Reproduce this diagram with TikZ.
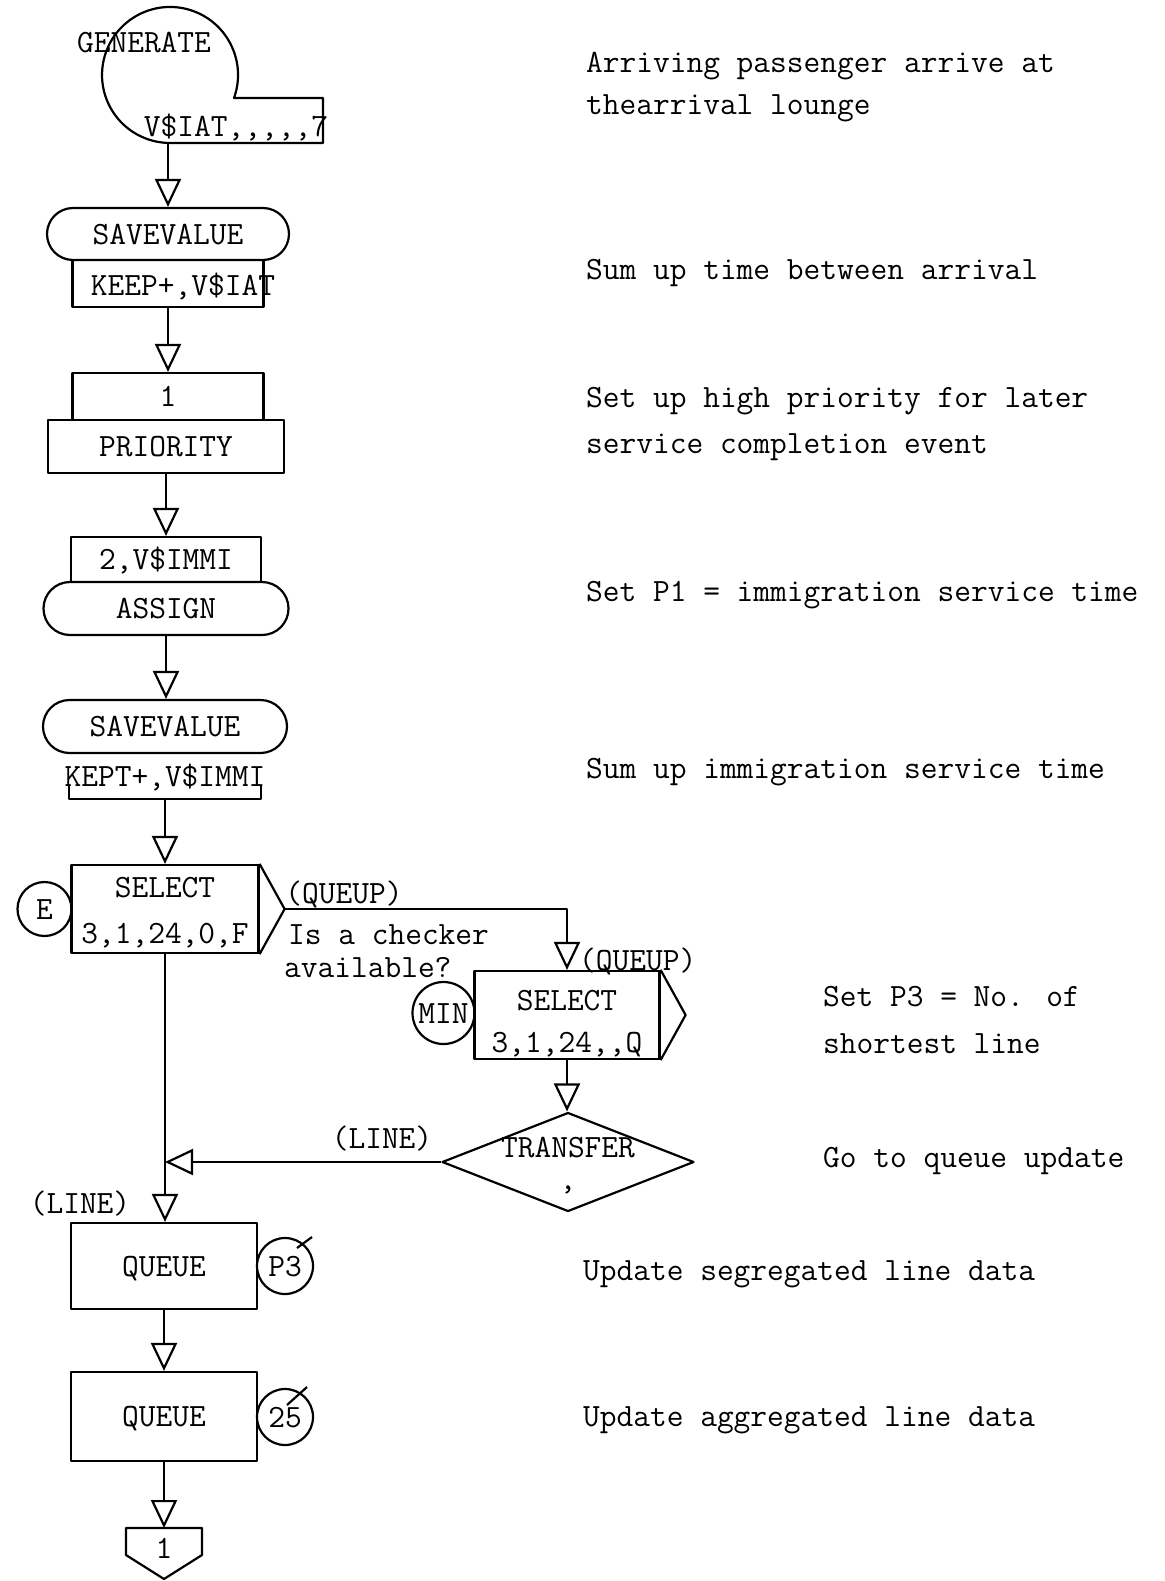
\documentclass[tikz,border=0pt]{standalone}
\usetikzlibrary{arrows.meta,shapes.misc,shapes.geometric}
\begin{document}
\begin{tikzpicture}[x=1pt,y=-1pt,line width=2.2pt,line join=round,
  tw/.style={font=\fontsize{32.5}{38}\selectfont\ttfamily, inner sep=0pt},
  lbl/.style={tw, anchor=base},
  note/.style={tw, anchor=base west},
  box/.style={draw, rectangle, inner sep=0pt, tw, text height=20pt, text depth=0pt},
  pill/.style={draw, rounded rectangle, inner sep=0pt, tw, text height=20pt, text depth=0pt},
  tag/.style={draw, circle, inner sep=0pt, tw, text height=20pt, text depth=0pt},
  flow/.style={-{Triangle[open,width=26pt,length=28pt]}},
]
\useasboundingbox (0,0) rectangle (1164,1581);

% GENERATE block: circle merged with its operand field
\draw (234,98) arc[start angle=19.8, end angle=-270, radius=68] -- (323,143) -- (323,98) -- cycle;
\node[lbl] (gentxt) at (144,53) {GENERATE};
\node[lbl] (genop) at (236,137) {V\$IAT,,,,,7};
\coordinate (genout) at (168,143);

% SAVEVALUE KEEP+
\node[pill, minimum width=242, minimum height=52] (sv1) at (168,234) {SAVEVALUE};
\node[box, minimum width=191, minimum height=47] (sv1b) at (168,283.5) {};
\node[lbl] (sv1op) at (183,295) {KEEP+,V\$IAT};

% PRIORITY
\node[box, minimum width=191, minimum height=47] (pr1) at (168,396.5) {1};
\node[box, minimum width=236, minimum height=53] (pr2) at (166,446.5) {PRIORITY};

% ASSIGN
\node[box, minimum width=190, minimum height=45] (as1) at (166,559.5) {2,V\$IMMI};
\node[pill, minimum width=245, minimum height=53] (as2) at (166,608.5) {ASSIGN};

% SAVEVALUE KEPT+
\node[pill, minimum width=244, minimum height=53] (sv2) at (165,726.5) {SAVEVALUE};
\node[inner sep=0pt, minimum width=190, minimum height=45] (sv2b) at (165,775.5) {};
\draw ([yshift=14pt]sv2b.south west) -- (sv2b.south west) -- (sv2b.south east) -- ([yshift=14pt]sv2b.south east);
\node[lbl] (sv2op) at (165,786) {KEPT+,V\$IMMI};

% first SELECT
\node[box, minimum width=187, minimum height=88] (sel1) at (165,909) {};
\draw (sel1.north east) -- ([xshift=25pt]sel1.east) coordinate (sel1tip) -- (sel1.south east);
\node[lbl] (sel1a) at (165,897) {SELECT};
\node[lbl] (sel1b) at (165,943) {3,1,24,0,F};
\node[tag, minimum size=54] (e) at (44.5,909) {E};

% second SELECT
\node[box, minimum width=185, minimum height=88] (sel2) at (567,1015) {};
\draw (sel2.north east) -- ([xshift=25pt]sel2.east) -- (sel2.south east);
\node[lbl] (sel2a) at (567,1010) {SELECT};
\node[lbl] (sel2b) at (567,1052) {3,1,24,,Q};
\node[tag, minimum size=62] (min) at (443.5,1013) {MIN};

% TRANSFER
\node[diamond, draw, inner sep=0pt, minimum width=252, minimum height=99] (xfer) at (568,1162) {};
\node[lbl] (xfera) at (568,1157) {TRANSFER};
\node[lbl] (xferb) at (568,1189) {,};
\coordinate (join) at (165,1162);

% QUEUE blocks
\node[box, minimum width=186, minimum height=86] (q1) at (164,1266) {QUEUE};
\node[tag, minimum size=56] (p3) at (285,1266) {P3};
\draw ([shift={(12,-18)}]p3.center) -- ([shift={(27,-29)}]p3.center);
\node[box, minimum width=186, minimum height=89] (q2) at (164,1416.5) {QUEUE};
\node[tag, minimum size=56] (q25) at (285,1417) {25};
\draw ([shift={(2,-12)}]q25.center) -- ([shift={(22,-30)}]q25.center);

% off-page connector
\draw (126,1528) -- (202,1528) -- (202,1555) -- (164,1579) -- (126,1555) -- cycle;
\coordinate (offtop) at (164,1528);
\node[lbl] (offtxt) at (164,1558) {1};

% connectors (kept vertical from each block's exit point)
\draw[flow] (genout) -- (genout |- sv1.north);
\draw[flow] (sv1b.south) -- (sv1b.south |- pr1.north);
\draw[flow] (pr2.south) -- (pr2.south |- as1.north);
\draw[flow] (as2.south) -- (as2.south |- sv2.north);
\draw[flow] (sv2b.south) -- (sv2b.south |- sel1.north);
\draw[flow] (sel1tip) -- (sel1tip -| sel2.north) -- (sel2.north);
\draw[flow] (sel2.south) -- (sel2.south |- xfer.north);
\draw[flow] (xfer.west) -- (join);
\draw[flow] (sel1.south) -- (sel1.south |- q1.north);
\draw[flow] (q1.south) -- (q2.north);
\draw[flow] (q2.south) -- (offtop);

% connector labels
\node[lbl] (qu1) at (344,903) {(QUEUP)};
\node[note] (chk1) at (287,944) {Is a checker};
\node[note] (chk2) at (283,977) {available?};
\node[note] (qu2) at (578,970) {(QUEUP)};
\node[lbl] (ln1) at (382,1148) {(LINE)};
\node[lbl] (ln2) at (80,1213) {(LINE)};

% comments column
\node[note] (c1) at (585,73) {Arriving passenger arrive at};
\node[note] (c2) at (585,115) {thearrival lounge};
\node[note] (c3) at (585,279) {Sum up time between arrival};
\node[note] (c4) at (585,407) {Set up high priority for later};
\node[note] (c5) at (585,453) {service completion event};
\node[note] (c6) at (585,601) {Set P1 = immigration service time};
\node[note] (c7) at (585,778) {Sum up immigration service time};
\node[note] (c8) at (822,1006) {Set P3 = No. of};
\node[note] (c9) at (822,1053) {shortest line};
\node[note] (c10) at (822,1167) {Go to queue update};
\node[note] (c11) at (582,1280) {Update segregated line data};
\node[note] (c12) at (582,1426) {Update aggregated line data};
\end{tikzpicture}
\end{document}
